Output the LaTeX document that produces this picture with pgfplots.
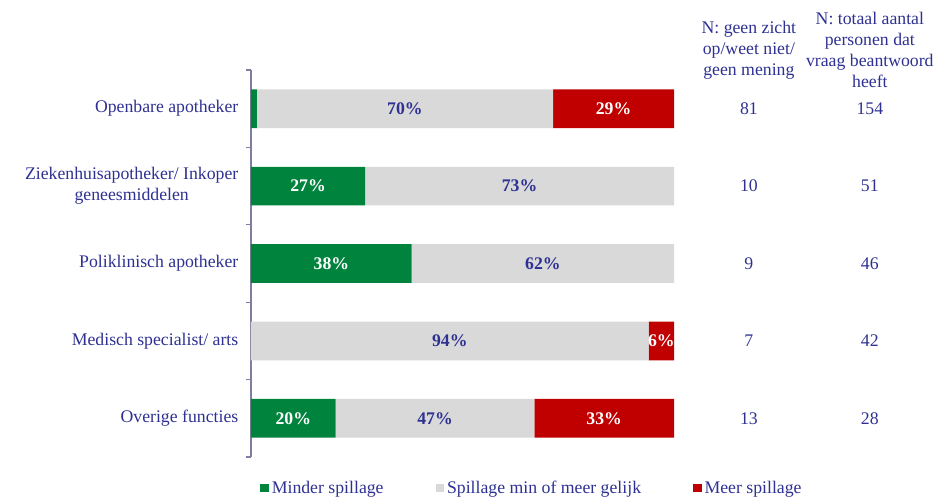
\documentclass[border=0pt]{standalone}
\usepackage{fontspec}
\setmainfont{Liberation Serif}
\usepackage{pgfplots}
\pgfplotsset{compat=1.18}

\definecolor{navy}{RGB}{46,49,146}
\definecolor{vgreen}{RGB}{0,132,61}
\definecolor{vgrey}{RGB}{217,217,217}
\definecolor{vred}{RGB}{192,0,0}
\definecolor{axgrey}{RGB}{128,126,160}

\pgfplotsset{
  sq legend/.style={legend image code/.code={\fill[##1,draw=none] (0pt,-3.3pt) rectangle (6.6pt,3.3pt);}},
}

\newcommand{\fnt}{\fontsize{13.3}{15.75}\selectfont}

\begin{document}
\begin{tikzpicture}[font=\fnt]
% 1px = 0.75pt, picture 941x498 px
\path[use as bounding box] (-188.25pt,-30.75pt) rectangle (517.5pt,342.75pt);
\begin{axis}[
    at={(0,0)}, anchor=south west,
    scale only axis,
    width=317.25pt, height=290.25pt,
    xbar stacked,
    bar width=0.5,
    xmin=0, xmax=100,
    ymin=-0.5, ymax=4.5,
    y dir=reverse,
    enlargelimits=false,
    clip=false,
    axis x line=none,
    axis y line*=left,
    axis line style={axgrey, line width=0.9pt},
    ytick={0,1,2,3,4},
    yticklabels={Openbare apotheker, {Ziekenhuisapotheker/ Inkoper\\geneesmiddelen}, Poliklinisch apotheker, Medisch specialist/ arts, Overige functies},
    yticklabel style={align=center, text=navy, xshift=-6pt},
    major tick length=0pt,
    minor ytick={-0.5,0.5,...,4.5},
    minor tick length=4pt,
    tick align=outside,
    minor tick style={axgrey, line width=0.9pt},
    point meta=explicit symbolic,
    nodes near coords,
    every node near coord/.append style={anchor=center, font=\fnt\bfseries, text=navy},
    legend style={at={(0.012,-0.08)}, anchor=west, draw=none, fill=none,
        text=navy, font=\fnt, legend columns=3,
        /tikz/every even column/.append style={column sep=37pt}},
    legend cell align=left,
]
\addplot[fill=vgreen, draw=none, sq legend, every node near coord/.append style={text=white}]
  coordinates {(1.4,0) [] (27,1) [27\%] (38,2) [38\%] (0,3) [] (20,4) [20\%]};
\addplot[fill=vgrey, draw=none, sq legend]
  coordinates {(70,0) [70\%] (73,1) [73\%] (62,2) [62\%] (94,3) [94\%] (47,4) [47\%]};
\addplot[fill=vred, draw=none, sq legend, every node near coord/.append style={text=white}]
  coordinates {(28.6,0) [29\%] (0,1) [] (0,2) [] (6,3) [6\%] (33,4) [33\%]};
\legend{Minder spillage, Spillage min of meer gelijk, Meer spillage}

\node[align=center, text=navy] at (axis cs:117.7,-0.758) {N: geen zicht\\op/weet niet/\\geen mening};
\node[align=center, text=navy] at (axis cs:146.3,-0.758) {N: totaal aantal\\personen dat\\vraag beantwoord\\heeft};
\node[text=navy] at (axis cs:117.7,0) {81};
\node[text=navy] at (axis cs:117.7,1) {10};
\node[text=navy] at (axis cs:117.7,2) {9};
\node[text=navy] at (axis cs:117.7,3) {7};
\node[text=navy] at (axis cs:117.7,4) {13};
\node[text=navy] at (axis cs:146.3,0) {154};
\node[text=navy] at (axis cs:146.3,1) {51};
\node[text=navy] at (axis cs:146.3,2) {46};
\node[text=navy] at (axis cs:146.3,3) {42};
\node[text=navy] at (axis cs:146.3,4) {28};
\end{axis}
\end{tikzpicture}
\end{document}
